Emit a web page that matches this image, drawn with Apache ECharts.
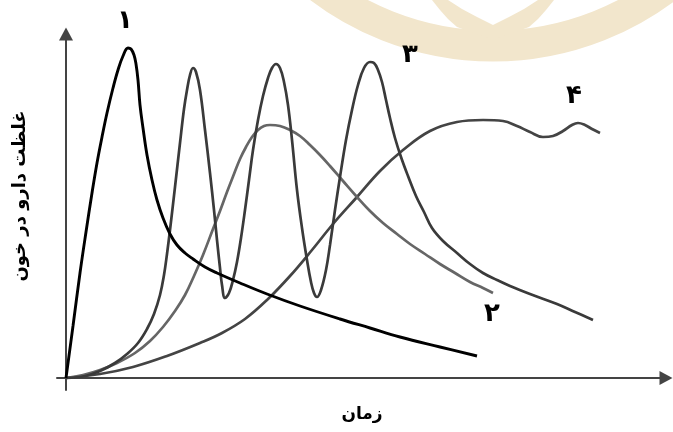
<!DOCTYPE html>
<html>
<head>
<meta charset="utf-8">
<script src="https://cdn.jsdelivr.net/npm/echarts@6/dist/echarts.min.js"></script>
<style>
html,body{margin:0;padding:0;background:#fff;}
#c{width:673px;height:432px;}
</style>
</head>
<body>
<div id="c"></div>
<script>
// Data (time, concentration) in arbitrary units
const curve1 = [[0,0],[7,52],[14,105],[20,146],[26,185],[31,215],[36,241],[41,265],[47,290],[52,308],[57,322],[62,330],[65,329],[68,323],[70,314],[72,298],[74,273],[77,250],[81,223],[86,198],[91,178],[97,160],[104,144],[111,133],[119,125],[127,119],[139,111],[151,105],[174,95],[201,84],[234,72],[274,59],[304,50],[334,41],[374,31],[411,22]];
const curve2 = [[0,0],[17,3],[34,8],[51,15],[69,25],[84,37],[97,51],[109,67],[119,83],[128,102],[137,123],[147,149],[154,167],[161,186],[168,204],[174,219],[180,231],[186,241],[192,248],[198,252],[204,253],[214,252],[224,248],[234,242],[244,233],[254,223],[264,212],[277,197],[291,181],[304,167],[317,155],[331,144],[344,134],[359,124],[374,114],[389,105],[404,96],[417,90],[427,85]];
const curve3 = [[0,0],[19,2],[34,7],[49,15],[61,24],[72,35],[81,49],[88,64],[94,83],[98,103],[101,124],[104,148],[109,191],[114,235],[118,269],[121,288],[124,303],[127,310],[130,306],[134,288],[139,248],[144,205],[148,168],[151,138],[154,110],[156,93],[159,80],[163,85],[167,98],[171,116],[175,140],[179,168],[183,198],[187,228],[192,258],[197,282],[202,300],[206,310],[210,314],[214,310],[218,296],[222,273],[226,238],[231,188],[236,150],[241,118],[245,96],[248,85],[251,81],[255,88],[260,108],[264,133],[269,168],[274,201],[280,238],[286,268],[292,293],[298,310],[304,316],[308,315],[312,308],[316,296],[320,278],[324,260],[329,240],[335,221],[342,202],[350,182],[358,166],[366,150],[377,137],[391,125],[404,114],[417,105],[431,98],[444,92],[464,84],[491,74],[509,66],[527,58]];
const curve4 = [[0,0],[34,4],[67,11],[101,22],[134,35],[156,45],[179,59],[201,78],[224,102],[246,128],[267,154],[291,181],[314,207],[337,228],[364,247],[391,256],[417,258],[437,257],[451,252],[464,246],[477,241],[487,242],[497,247],[506,253],[512,255],[519,253],[526,249],[534,245]];
const curveLabels = ['۱', '۲', '۳', '۴'];
const xName = 'زمان';
const yName = 'غلظت دارو در خون';

const chart = echarts.init(document.getElementById('c'), null, {renderer: 'canvas'});
const font = '"DejaVu Sans", sans-serif';
const wm = '#F2E6CC';
const axisCommon = {
  type: 'value',
  splitLine: {show: false},
  axisTick: {show: false},
  axisLabel: {show: false},
  axisLine: {show: true, onZero: true, symbol: ['none', 'triangle'], symbolSize: [14, 13],
    lineStyle: {color: '#444', width: 2}}
};
function line(data, color, width, z) {
  return {type: 'line', data: data, smooth: 0.4, showSymbol: false, silent: true, z: z,
    lineStyle: {color: color, width: width}};
}
function label(text, x, y, size) {
  return {type: 'text', z: 100, x: x, y: y,
    style: {text: text, font: 'bold ' + size + 'px ' + font, fill: '#000', textAlign: 'center', textVerticalAlign: 'middle'}};
}
chart.setOption({
  animation: false,
  backgroundColor: '#fff',
  grid: {left: 57, right: 7, top: 34, bottom: 42},
  xAxis: Object.assign({}, axisCommon, {min: -9, max: 600}),
  yAxis: Object.assign({}, axisCommon, {min: -12, max: 344}),
  graphic: [
    {type: 'arc', z: -10, shape: {cx: 493, cy: -241, r: 287, startAngle: 0, endAngle: Math.PI},
      style: {stroke: wm, lineWidth: 31, fill: null}},
    {type: 'polygon', z: -10, shape: {points: [[432,0],[448,0],[462,9],[477,17],[493,25],[509,17],[524,9],[538,0],[554,0],[546,10],[538,19],[529,27],[493,40],[457,27],[448,19],[440,10]]},
      style: {fill: wm}},
    {type: 'text', z: 100, x: 20, y: 196, rotation: Math.PI / 2,
      style: {text: yName, font: 'bold 18px ' + font, fill: '#000', textAlign: 'center', textVerticalAlign: 'middle'}},
    label(xName, 362, 415, 17),
    label(curveLabels[0], 125, 21, 26),
    label(curveLabels[1], 492, 314, 26),
    label(curveLabels[2], 410, 55, 26),
    label(curveLabels[3], 574, 96, 26)
  ],
  series: [
    line(curve4, '#444', 2.7, 2),
    line(curve2, '#666', 2.7, 3),
    line(curve3, '#3a3a3a', 2.7, 4),
    line(curve1, '#000', 2.9, 5)
  ]
});
</script>
</body>
</html>
